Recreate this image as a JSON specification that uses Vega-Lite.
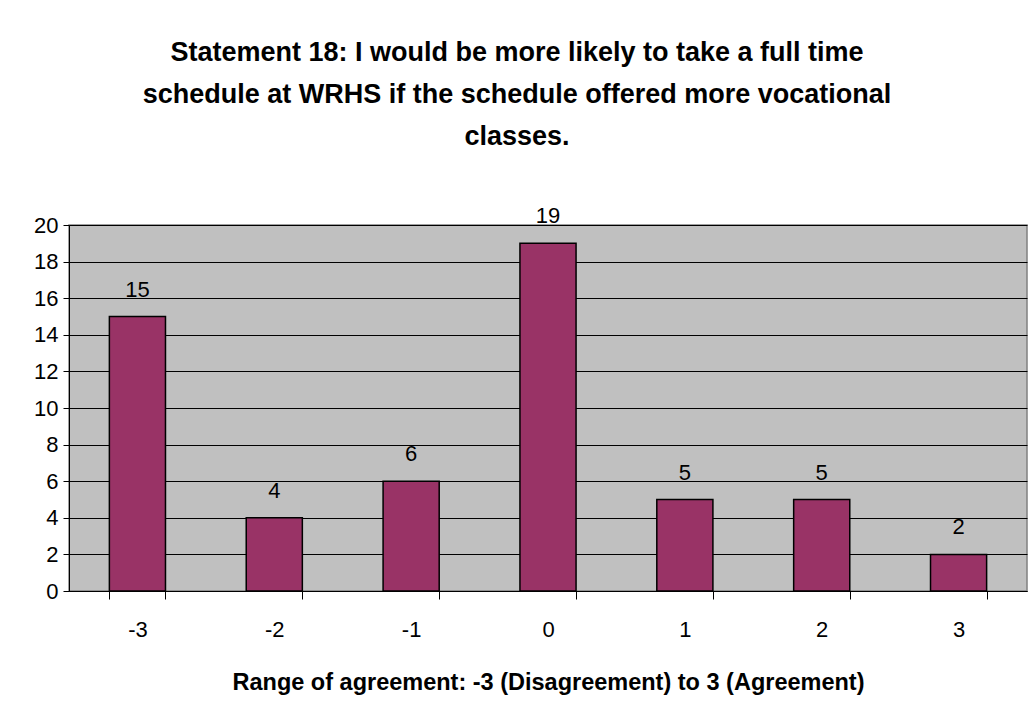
{
  "$schema": "https://vega.github.io/schema/vega-lite/v6.json",
  "autosize": {"type": "none"},
  "width": 958,
  "height": 366,
  "padding": {"left": 69, "top": 225, "right": 7, "bottom": 131},
  "background": "white",
  "title": {
    "text": ["Statement 18:  I would be more likely to take a full time", "schedule at WRHS if the schedule offered more vocational", "classes."],
    "font": "Liberation Sans",
    "fontSize": 27,
    "fontWeight": "bold",
    "lineHeight": 42,
    "anchor": "middle",
    "baseline": "alphabetic",
    "offset": 33,
    "dx": -31,
    "color": "black"
  },
  "data": {
    "values": [
      {"rating": "-3", "count": 15},
      {"rating": "-2", "count": 4},
      {"rating": "-1", "count": 6},
      {"rating": "0", "count": 19},
      {"rating": "1", "count": 5},
      {"rating": "2", "count": 5},
      {"rating": "3", "count": 2}
    ]
  },
  "encoding": {
    "x": {
      "field": "rating",
      "type": "ordinal",
      "sort": null,
      "scale": {"paddingInner": 0.59, "paddingOuter": 0.295},
      "axis": {
        "title": "Range of agreement:  -3 (Disagreement) to 3 (Agreement)",
        "titleFont": "Liberation Sans",
        "titleFontSize": 23.5,
        "titleFontWeight": "bold",
        "titleColor": "black",
        "titlePadding": 30,
        "labelFont": "Liberation Sans",
        "labelFontSize": 22,
        "labelColor": "black",
        "labelAngle": 0,
        "labelPadding": 20,
        "tickBand": "extent",
        "tickSize": 8,
        "tickColor": "black",
        "domainColor": "black",
        "grid": false
      }
    },
    "y": {
      "field": "count",
      "type": "quantitative",
      "scale": {"domain": [0, 20], "nice": false},
      "axis": {
        "title": null,
        "values": [0, 2, 4, 6, 8, 10, 12, 14, 16, 18, 20],
        "labelFont": "Liberation Sans",
        "labelFontSize": 22,
        "labelColor": "black",
        "labelPadding": 5,
        "tickSize": 6,
        "tickColor": "black",
        "domainColor": "black",
        "grid": true,
        "gridColor": "black",
        "gridOpacity": 1
      }
    }
  },
  "layer": [
    {
      "mark": {"type": "bar", "color": "#993366", "stroke": "black", "strokeWidth": 1.5}
    },
    {
      "mark": {"type": "text", "font": "Liberation Sans", "fontSize": 22, "color": "black", "baseline": "alphabetic", "dy": -20},
      "encoding": {"text": {"field": "count", "type": "quantitative"}}
    }
  ],
  "config": {
    "view": {"fill": "#C0C0C0", "stroke": "#808080", "strokeWidth": 1.5}
  }
}
